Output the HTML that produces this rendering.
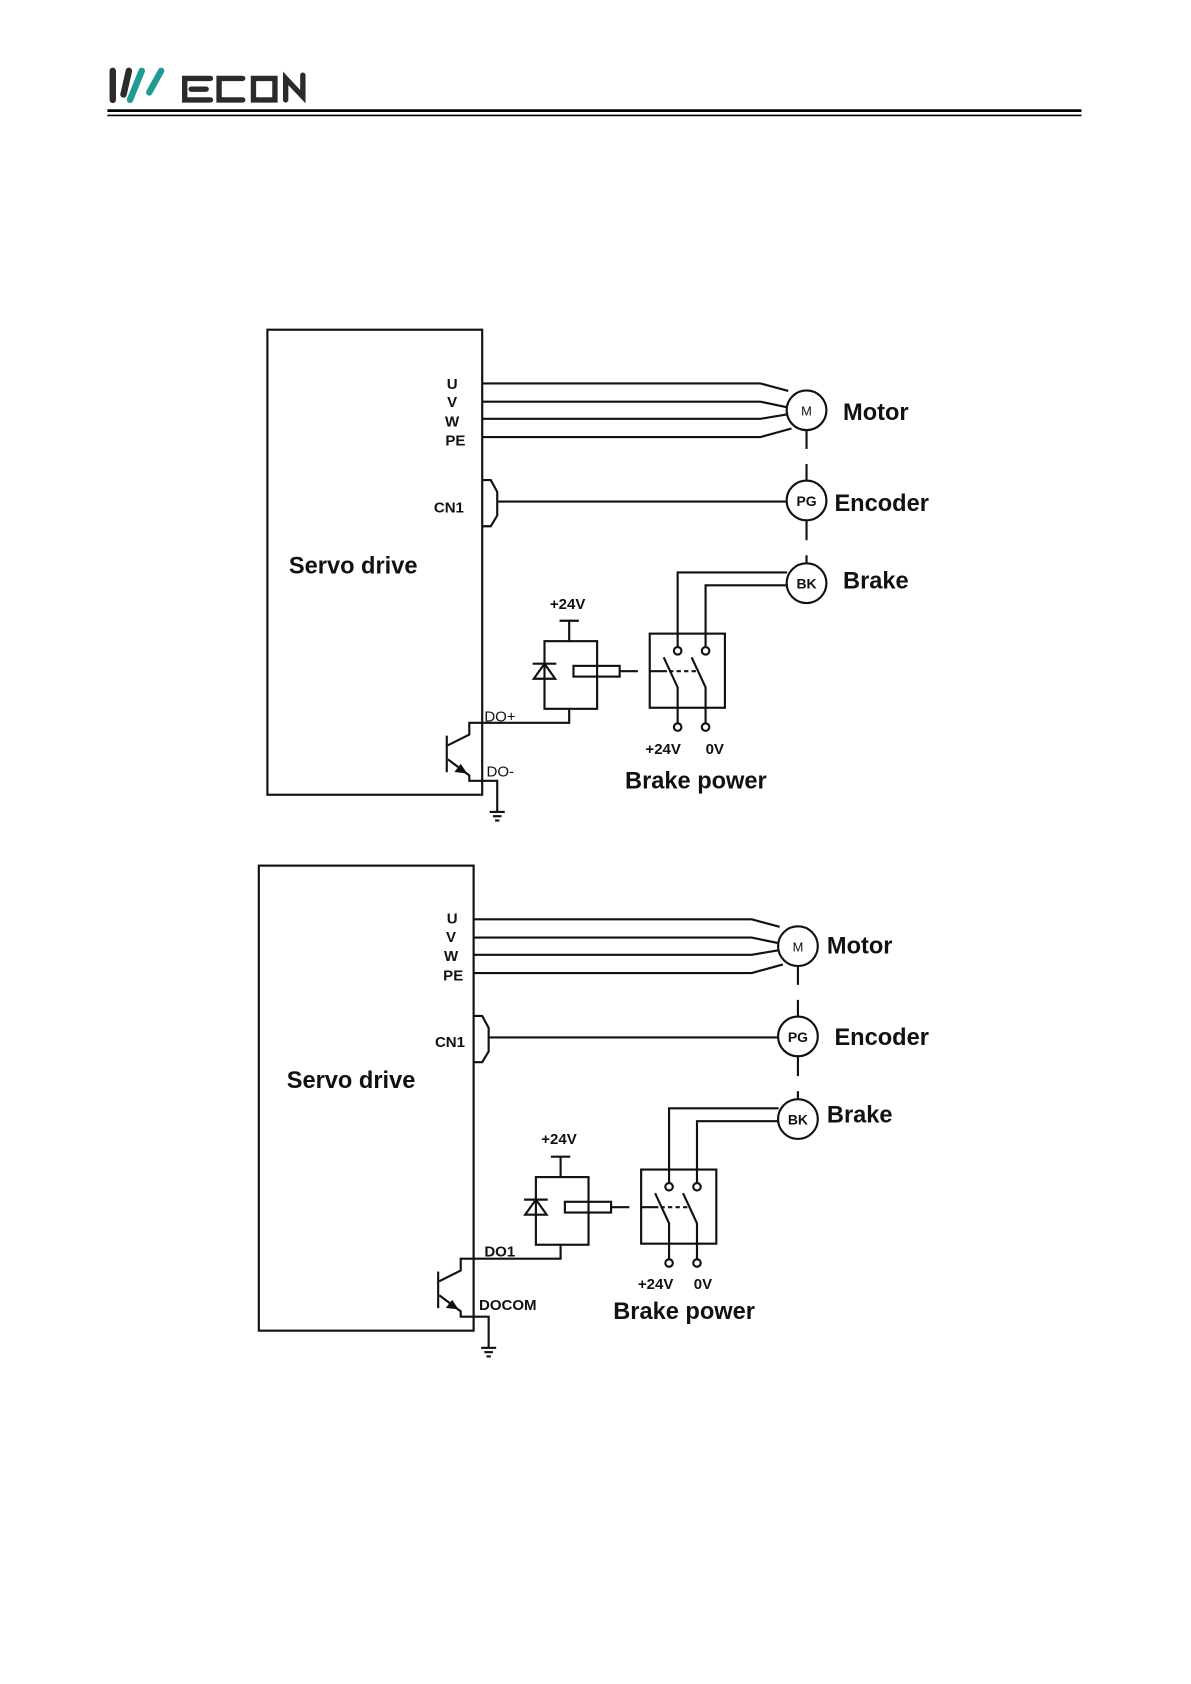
<!DOCTYPE html>
<html><head><meta charset="utf-8"><style>
html,body{margin:0;padding:0;background:#fff}
svg{display:block}
text{font-family:"Liberation Sans",Arial,sans-serif;fill:#111}
</style></head><body>
<svg width="1191" height="1684" viewBox="0 0 1109 1568" preserveAspectRatio="none" xmlns="http://www.w3.org/2000/svg">
<defs>
<g id="dg" fill="none" stroke="#111" stroke-width="2">
  <rect x="249" y="307" width="200" height="433"/>
  <polyline points="449,357 708,357 734,364"/>
  <polyline points="449,374 708,374 732,379"/>
  <polyline points="449,390 708,390 732,386"/>
  <polyline points="449,407 708,407 737,399"/>
  <circle cx="751" cy="382" r="18.5"/>
  <line x1="751" y1="401" x2="751" y2="418"/>
  <line x1="751" y1="432" x2="751" y2="448"/>
  <circle cx="751" cy="466" r="18.5"/>
  <line x1="751" y1="485" x2="751" y2="503"/>
  <line x1="751" y1="517" x2="751" y2="524"/>
  <circle cx="751" cy="543" r="18.5"/>
  <polyline points="449,447 457,447 463,458 463,480 457,490 449,490"/>
  <line x1="463" y1="467" x2="732" y2="467"/>
  <polyline points="733,533 631,533 631,602"/>
  <polyline points="733,545 657,545 657,602"/>
  <rect x="605" y="590" width="70" height="69"/>
  <circle cx="631" cy="606" r="3.5"/>
  <circle cx="657" cy="606" r="3.5"/>
  <polyline points="618,612 631,640 631,673"/>
  <polyline points="644,612 657,640 657,673"/>
  <circle cx="631" cy="677" r="3.5"/>
  <circle cx="657" cy="677" r="3.5"/>
  <line x1="605" y1="625" x2="621" y2="625"/>
  <line x1="623" y1="625" x2="649" y2="625" stroke-dasharray="4,3"/>
  <rect x="507" y="597" width="49" height="63"/>
  <rect x="534" y="620" width="43" height="10"/>
  <line x1="577" y1="625" x2="594" y2="625"/>
  <line x1="496" y1="618" x2="518" y2="618"/>
  <polygon points="507,618 497,632 517,632"/>
  <line x1="530" y1="597" x2="530" y2="578"/>
  <line x1="521" y1="578" x2="539" y2="578"/>
  <polyline points="530,660 530,673 437,673 437,684 417,694"/>
  <line x1="416" y1="685" x2="416" y2="719"/>
  <polyline points="417,707 437,722 437,727 463,727 463,756"/>
  <polygon points="433,719 425,718 429,713" fill="#111"/>
  <line x1="456" y1="756" x2="470" y2="756"/>
  <line x1="459" y1="760" x2="467" y2="760"/>
  <line x1="461" y1="764" x2="465" y2="764"/>
</g>
</defs>

<g fill="none" stroke-linecap="round">
  <line x1="105" y1="66" x2="105" y2="93" stroke="#2b2b2b" stroke-width="6"/>
  <line x1="120" y1="66" x2="115" y2="88" stroke="#2b2b2b" stroke-width="6"/>
  <line x1="132" y1="66" x2="121" y2="93" stroke="#1f9a94" stroke-width="6"/>
  <line x1="150" y1="66" x2="139" y2="86" stroke="#1f9a94" stroke-width="6"/>
  <path d="M196 73 H172 V93 H196 M178 83 H192" stroke="#2b2b2b" stroke-width="5"/>
  <path d="M226 73 H204 V93 H226" stroke="#2b2b2b" stroke-width="5"/>
  <path d="M236 73 H256 V93 H236 Z" stroke="#2b2b2b" stroke-width="5"/>
  <path d="M266 93 V73 L282 90 V70" stroke="#2b2b2b" stroke-width="5"/>
</g>
<line x1="100" y1="103" x2="1007" y2="103" stroke="#000" stroke-width="2.5"/>
<line x1="100" y1="107.5" x2="1007" y2="107.5" stroke="#000" stroke-width="1.5"/>

<use href="#dg"/>
<g font-weight="bold">
<text x="421" y="362" font-size="14" text-anchor="middle">U</text>
<text x="421" y="379" font-size="14" text-anchor="middle">V</text>
<text x="421" y="397" font-size="14" text-anchor="middle">W</text>
<text x="424" y="415" font-size="14" text-anchor="middle">PE</text>
<text x="404" y="477" font-size="14">CN1</text>
<text x="269" y="534" font-size="22">Servo drive</text>
<text x="751" y="387" font-size="12" text-anchor="middle" font-weight="normal">M</text>
<text x="751" y="471" font-size="13" text-anchor="middle">PG</text>
<text x="751" y="548" font-size="13" text-anchor="middle">BK</text>
<text x="785" y="391" font-size="22">Motor</text>
<text x="777" y="476" font-size="22">Encoder</text>
<text x="785" y="548" font-size="22">Brake</text>
<text x="512" y="567" font-size="14">+24V</text>
<text x="601" y="702" font-size="14">+24V</text>
<text x="657" y="702" font-size="14">0V</text>
<text x="582" y="734" font-size="22">Brake power</text>
<text x="451" y="672" font-size="14" font-weight="normal">DO+</text>
<text x="453" y="723" font-size="14" font-weight="normal">DO-</text>
</g>

<g transform="translate(-8,499)"><use href="#dg"/></g>
<g font-weight="bold">
<text x="421" y="860" font-size="14" text-anchor="middle">U</text>
<text x="420" y="877" font-size="14" text-anchor="middle">V</text>
<text x="420" y="895" font-size="14" text-anchor="middle">W</text>
<text x="422" y="913" font-size="14" text-anchor="middle">PE</text>
<text x="405" y="975" font-size="14">CN1</text>
<text x="267" y="1013" font-size="22">Servo drive</text>
<text x="743" y="886" font-size="12" text-anchor="middle" font-weight="normal">M</text>
<text x="743" y="970" font-size="13" text-anchor="middle">PG</text>
<text x="743" y="1047" font-size="13" text-anchor="middle">BK</text>
<text x="770" y="888" font-size="22">Motor</text>
<text x="777" y="973" font-size="22">Encoder</text>
<text x="770" y="1045" font-size="22">Brake</text>
<text x="504" y="1065" font-size="14">+24V</text>
<text x="594" y="1200" font-size="14">+24V</text>
<text x="646" y="1200" font-size="14">0V</text>
<text x="571" y="1228" font-size="22">Brake power</text>
<text x="451" y="1170" font-size="14">DO1</text>
<text x="446" y="1220" font-size="14">DOCOM</text>
</g>
</svg>
</body></html>
